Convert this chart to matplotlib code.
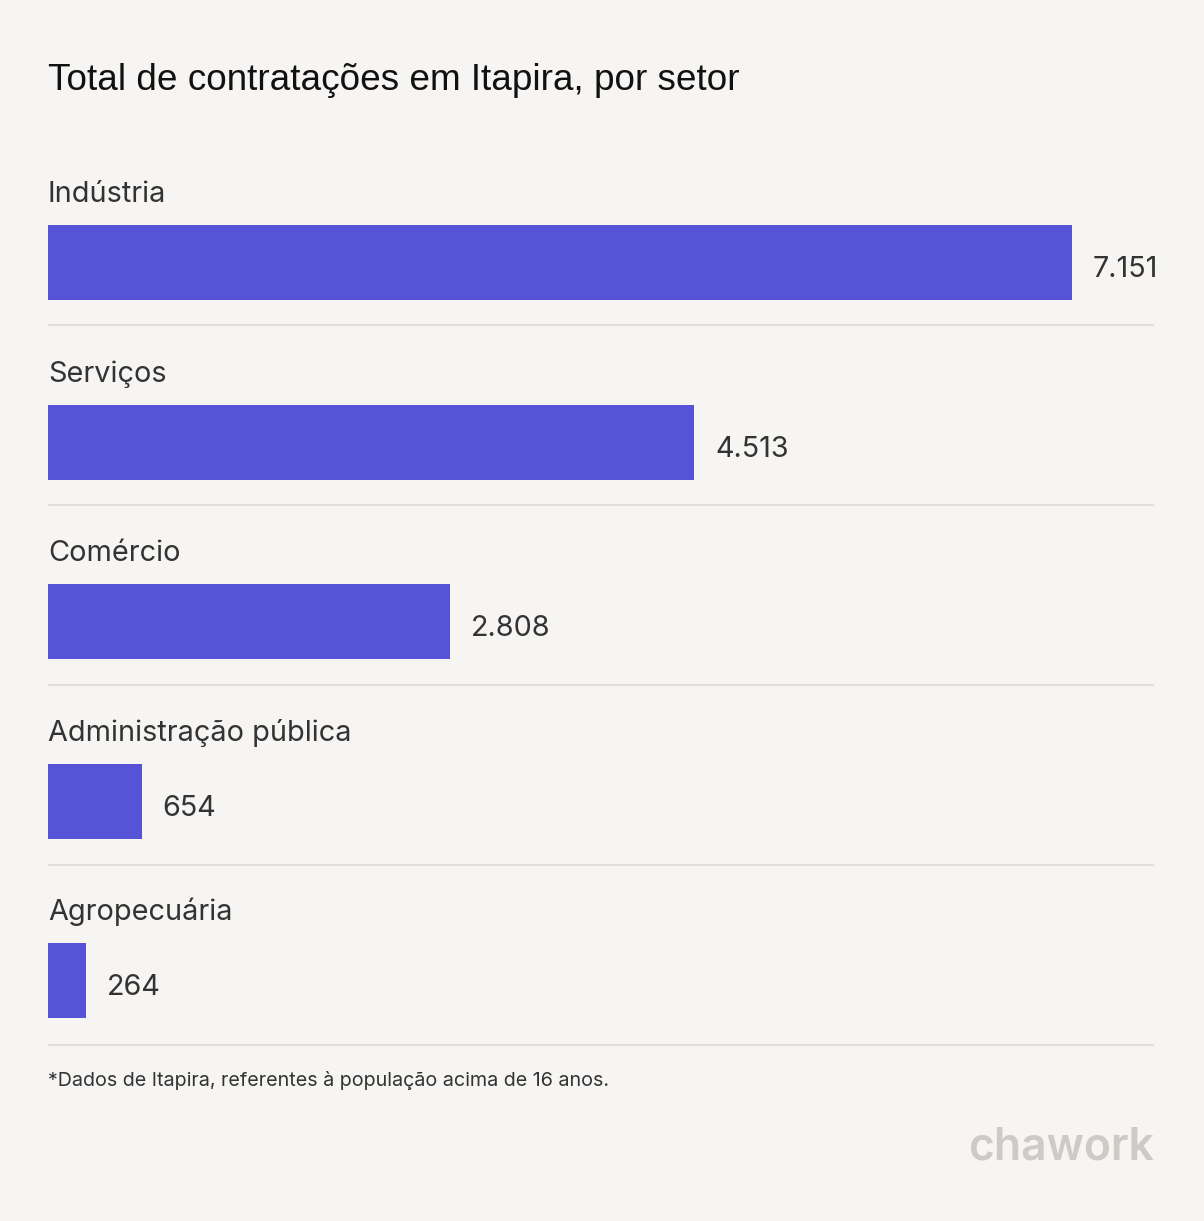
import matplotlib
matplotlib.use("Agg")
import matplotlib.pyplot as plt

categories = ["Indústria", "Serviços", "Comércio", "Administração pública", "Agropecuária"]
values = [7151, 4513, 2808, 654, 264]
value_labels = ["7.151", "4.513", "2.808", "654", "264"]
title = "Total de contratações em Itapira, por setor"
footnote = "*Dados de Itapira, referentes à população acima de 16 anos."
brand = "chawork"

W, H = 1204, 1221
DPI = 100
BG = "#F6F5F3"
BAR = "#5753D6"
SEP = "#E1DFDC"

fig = plt.figure(figsize=(W / DPI, H / DPI), dpi=DPI, facecolor=BG)
left_px, right_px = 48, 1154
ax = fig.add_axes([left_px / W, 0, (right_px - left_px) / W, 1])
ax.set_facecolor(BG)
ax.axis("off")
px_per_unit = (1072 - left_px) / 7151
xmax = (right_px - left_px) / px_per_unit
ax.set_xlim(0, xmax)
ax.set_ylim(H, 0)

top0 = 225
step = 179.6
bh = 75
for i, (cat, v, lab) in enumerate(zip(categories, values, value_labels)):
    top = top0 + i * step
    ax.barh(top + bh / 2, v, height=bh, color=BAR, left=0)
    ax.text(0, top - 23, cat, fontsize=20.8, family=["Inter", "DejaVu Sans"],
            color="#333333", va="baseline", ha="left")
    ax.text(v + 21 / px_per_unit, top + 52, lab, fontsize=20.7,
            family=["Inter", "DejaVu Sans"], color="#333333", va="baseline", ha="left")
    sep_y = 324.5 + i * 180
    ax.plot([0, xmax], [sep_y, sep_y], color=SEP, lw=1.5, solid_capstyle="butt")

fig.text(48 / W, 1 - 90 / H, title, fontsize=26.6, family=["Liberation Sans", "DejaVu Sans"],
         color="#111111", va="baseline", ha="left")
fig.text(48 / W, 1 - 1086 / H, footnote, fontsize=14.2, family=["Inter", "DejaVu Sans"],
         color="#333333", va="baseline", ha="left")
fig.text(1154 / W, 1 - 1160 / H, brand, fontsize=32, family=["Inter", "DejaVu Sans"],
         fontweight="semibold", color="#CDCBC6", va="baseline", ha="right")

fig.savefig("out.png", dpi=DPI, facecolor=BG)
